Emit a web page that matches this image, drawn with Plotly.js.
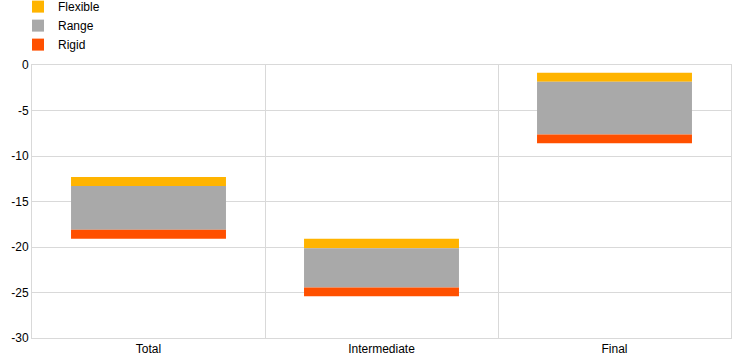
<!DOCTYPE html>
<html><head><meta charset="utf-8">
<script src="https://cdn.plot.ly/plotly-3.0.1.min.js"></script>
<style>html,body{margin:0;padding:0;background:#fff}#chart{width:744px;height:364px}</style>
</head><body><div id="chart"></div>
<script>
const categories = ["Total", "Intermediate", "Final"];
const flexibleTop = [-12.3, -19.1, -0.85];
const rangeTop = [-13.3, -20.15, -1.85];
const rangeBottom = [-18.1, -24.45, -7.65];
const rigidBottom = [-19.1, -25.4, -8.6];
const yTicks = [0, -5, -10, -15, -20, -25, -30];

const colors = {flex: "#FFB400", range: "#A9A9A9", rigid: "#FF5000"};
const diff = (a, b) => a.map((v, i) => v - b[i]);

const traces = [
  {type: "bar", name: "Flexible", x: categories, base: rangeTop, y: diff(flexibleTop, rangeTop),
   marker: {color: colors.flex, line: {width: 0}}, hoverinfo: "skip"},
  {type: "bar", name: "Range", x: categories, base: rangeBottom, y: diff(rangeTop, rangeBottom),
   marker: {color: colors.range, line: {width: 0}}, hoverinfo: "skip"},
  {type: "bar", name: "Rigid", x: categories, base: rigidBottom, y: diff(rangeBottom, rigidBottom),
   marker: {color: colors.rigid, line: {width: 0}}, hoverinfo: "skip"}
];

const layout = {
  width: 744, height: 364,
  margin: {l: 32, r: 13, t: 65, b: 26, autoexpand: false},
  paper_bgcolor: "#fff", plot_bgcolor: "#fff",
  barmode: "overlay", bargap: 0.335,
  font: {family: "Liberation Sans, Arial, sans-serif", size: 12, color: "#000"},
  showlegend: true,
  legend: {xref: "paper", yref: "paper", x: -0.02, y: 1.267, xanchor: "left", yanchor: "top",
           traceorder: "normal", font: {size: 12}, itemwidth: 30, tracegroupgap: 0,
           bgcolor: "rgba(0,0,0,0)"},
  xaxis: {type: "category", tickson: "boundaries", showgrid: true, gridcolor: "#d9d9d9", gridwidth: 1,
          ticks: "", showline: true, linecolor: "#d9d9d9", mirror: true, zeroline: false,
          tickfont: {size: 12}, fixedrange: true},
  yaxis: {range: [-30, 0], tickvals: yTicks, ticktext: yTicks.map(String), showgrid: true,
          gridcolor: "#d9d9d9", gridwidth: 1, zeroline: false, showline: true, linecolor: "#d9d9d9",
          mirror: true, ticks: "", tickfont: {size: 12}, fixedrange: true}
};

Plotly.newPlot("chart", traces, layout, {displayModeBar: false, staticPlot: true});
</script></body></html>
